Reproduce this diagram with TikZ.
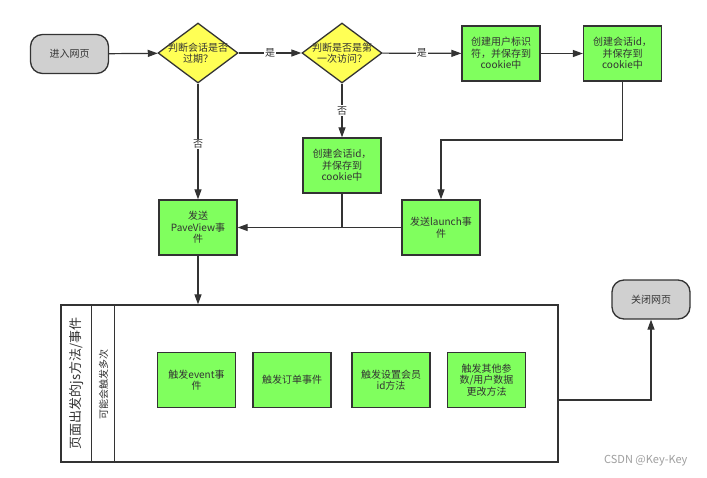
\documentclass[tikz,border=0pt]{standalone}
\usepackage{fontspec}
\setmainfont{Noto Sans CJK SC}
\usetikzlibrary{shapes.geometric,arrows.meta}
\definecolor{lc}{HTML}{333333}
\definecolor{tc}{HTML}{333333}
\definecolor{gr}{HTML}{80FF5E}
\definecolor{ye}{HTML}{FFFF55}
\definecolor{gy}{HTML}{D0D0D0}
\tikzset{
  base/.style={draw=lc, line width=1.3pt, text=tc, font=\fontsize{10}{11.5}\selectfont, align=center},
  proc/.style={base, fill=gr, minimum width=78pt, minimum height=55pt, inner sep=1pt},
  term/.style={base, fill=gy, rounded corners=12pt, minimum width=78pt, minimum height=39pt, inner sep=1pt},
  dec/.style={base, diamond, fill=ye, minimum width=80pt, minimum height=60pt, inner sep=0pt},
  txt/.style={text=tc, font=\fontsize{10}{11.5}\selectfont, align=center},
  lab/.style={fill=white, text=tc, font=\fontsize{10}{11}\selectfont, inner sep=1pt},
  arr/.style={draw=lc, line width=1.2pt, -{Triangle[length=10pt,width=7pt]}},
  ln/.style={draw=lc, line width=1.2pt}
}
\begin{document}
\begin{tikzpicture}[x=1pt,y=-1pt]
\useasboundingbox[fill=white] (0,0) rectangle (707,477);
% top row
\node[term] (start) at (69.5,54) {进入网页};
\node[dec] (d1) at (198,53) {};
\node[txt] (d1t) at (d1) {判断会话是否\\过期？};
\node[dec] (d2) at (342,53) {};
\node[txt] (d2t) at (d2) {判断是否是第\\一次访问？};
\node[proc] (b1) at (501,53.5) {创建用户标识\\符，并保存到\\cookie中};
\node[proc] (b2) at (622.5,53.5) {创建会话id，\\并保存到\\cookie中};
% middle
\node[proc] (mid) at (342,165.5) {创建会话id，\\并保存到\\cookie中};
\node[proc] (pv) at (198,227.5) {发送\\PaveView事\\件};
\node[proc] (launch) at (441,227.5) {发送launch事\\件};
% container
\node[base, fill=white, minimum width=497pt, minimum height=157pt, inner sep=0pt] (cont) at (309.5,383.5) {};
\draw[ln] ([xshift=31pt]cont.north west) -- ([xshift=31pt]cont.south west);
\draw[ln] ([xshift=54pt]cont.north west) -- ([xshift=54pt]cont.south west);
\node[text=tc, rotate=90, font=\fontsize{13}{15}\selectfont] (t1) at (76.5,383.5) {页面出发的js方法/事件};
\node[text=tc, rotate=90, font=\fontsize{10}{12}\selectfont] (t2) at (103.5,384) {可能会触发多次};
\node[proc] (e1) at (196.5,380) {触发event事\\件};
\node[proc] (e2) at (292,380) {触发订单事件};
\node[proc] (e3) at (391,380) {触发设置会员\\id方法};
\node[proc] (e4) at (486.5,380) {触发其他参\\数/用户数据\\更改方法};
\node[term] (close) at (651,299.5) {关闭网页};
\node[text=gray!75, font=\fontsize{11}{13}\selectfont, anchor=east] (wm) at (691,461) {CSDN @Key-Key};
% connectors
\draw[arr] (start) -- (d1);
\draw[arr] (d1) -- node[lab] {是} (d2);
\draw[arr] (d2) -- node[lab] {是} (b1);
\draw[arr] (b1) -- (b2);
\coordinate (k1) at (622.5,140);
\draw[arr] (b2) -- (k1) -| (launch);
\draw[arr] (d2) -- node[lab] {否} (mid);
\draw[arr] (d1) -- node[lab, pos=0.52] {否} (pv);
\draw[arr] (launch) -- (pv);
\draw[ln] (mid) -- (mid |- pv);
\draw[arr] (pv) -- (pv |- cont.north);
\coordinate (k2) at (651,400);
\draw[arr] (cont.east |- k2) -- (k2) -- (close);
\end{tikzpicture}
\end{document}
